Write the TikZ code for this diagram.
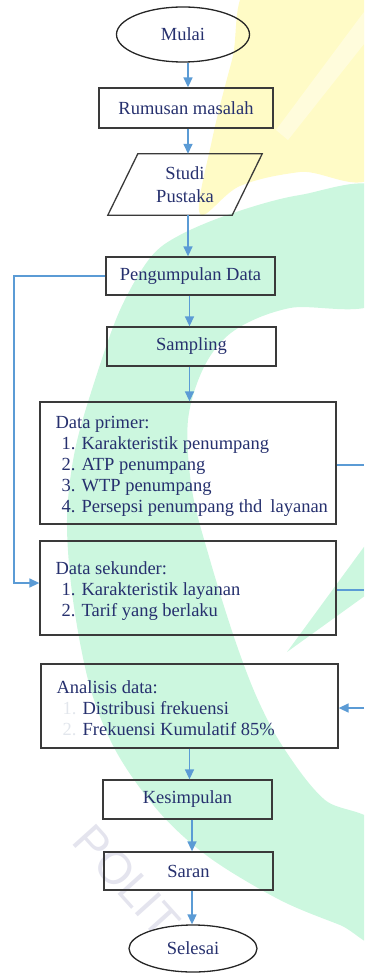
\documentclass[tikz,border=0pt]{standalone}
\usepackage{fontspec}
\setmainfont{Liberation Serif}
\newfontfamily\wmfont{Liberation Sans}
\usetikzlibrary{shapes.geometric,arrows.meta,calc}

\definecolor{inkblue}{HTML}{26306E}
\definecolor{framegray}{HTML}{3A3A3A}
\definecolor{linkblue}{HTML}{5B9BD5}
\definecolor{wmyellow}{HTML}{FFFBC6}
\definecolor{wmgreen}{HTML}{CCF7DF}
\definecolor{wmgray}{HTML}{E4E4EE}
\definecolor{numfaint}{HTML}{E2E6EC}

\begin{document}
\begin{tikzpicture}[x=1pt,y=-1pt,
  every node/.style={font=\fontsize{18.5}{21}\selectfont, text=inkblue},
  box/.style={draw=framegray, line width=1.3pt, rectangle, inner sep=0pt,
              minimum width=169pt, minimum height=39pt},
  frame/.style={draw=framegray, line width=1.3pt, rectangle, inner sep=0pt},
  listtext/.style={anchor=west, align=left, inner sep=0pt},
  oval/.style={draw=black!85, line width=1.3pt, ellipse, inner sep=0pt},
  link/.style={draw=linkblue, line width=1.5pt},
  arr/.style={link, -{Triangle[length=10pt,width=9pt]}},
]
\useasboundingbox (0,0) rectangle (364,973);

% background watermark
\begin{scope}
  \clip (0,0) rectangle (364,973);
  \fill[wmyellow] plot[smooth cycle, tension=0.6] coordinates {
    (255,-20) (380,-20) (380,168) (300,172) (240,186) (200,214) (212,140) (232,60)};
  \fill[white, opacity=0.4] (364,12) -- (364,44) -- (288,140) -- (276,130) -- cycle;
  \fill[wmgreen] plot[smooth cycle, tension=0.55] coordinates {
    (380,190) (300,195) (233,213) (180,235) (150,258) (120,310) (95,380)
    (75,450) (67,520) (73,600) (90,687) (117,753) (160,813) (210,858)
    (280,900) (340,925) (380,940) (380,830) (325,800) (285,750) (258,700)
    (235,640) (210,560) (192,490) (188,420) (205,365) (235,330) (290,308)
    (380,300)};
  \fill[wmgreen] (380,525) -- (287,652) -- (380,585) -- cycle;
  \node[rotate=-48, font=\wmfont\fontsize{46}{46}\selectfont, text=wmgray]
    (wm) at (127,881) {POLIT};
\end{scope}

% flow nodes
\node[oval, minimum width=133pt, minimum height=55pt] (mulai) at (183,34.5) {Mulai};
\node[box, minimum width=174pt, minimum height=40pt] (rumusan) at (186,108) {Rumusan masalah};
\node[inner sep=0pt, minimum width=124pt, minimum height=61pt, align=center,
      font=\fontsize{18.5}{23}\selectfont] (studi) at (185,184.5) {Studi\\Pustaka};
\draw[draw=framegray, line width=1.3pt]
  ([xshift=15pt]studi.north west) -- ([xshift=15pt]studi.north east)
  -- ([xshift=-15pt]studi.south east) -- ([xshift=-15pt]studi.south west) -- cycle;
\node[box, minimum height=38pt] (peng) at (190.5,276) {Pengumpulan Data};
\node[box] (samp) at (191.5,346.5) {Sampling};

\node[frame, minimum width=296pt, minimum height=122pt] (primer) at (188,463) {};
\node[listtext] (primertext) at ([xshift=16pt,yshift=-3pt]primer.west) {Data primer:\\
  \hspace*{6pt}1. Karakteristik penumpang\\
  \hspace*{6pt}2. ATP penumpang\\
  \hspace*{6pt}3. WTP penumpang\\
  \hspace*{6pt}4. Persepsi penumpang thd\hspace{8pt}layanan};

\node[frame, minimum width=296pt, minimum height=94pt] (sek) at (188,588) {};
\node[listtext] (sektext) at ([xshift=16pt,yshift=-3pt]sek.west) {Data sekunder:\\
  \hspace*{6pt}1. Karakteristik layanan\\
  \hspace*{6pt}2. Tarif yang berlaku};

\node[frame, minimum width=297pt, minimum height=84pt] (anal) at (189.5,706) {};
\node[listtext] (analtext) at ([xshift=16pt,yshift=-2pt]anal.west) {Analisis data:\\
  \hspace*{6pt}\textcolor{numfaint}{1.} Distribusi frekuensi\\
  \hspace*{6pt}\textcolor{numfaint}{2.} Frekuensi Kumulatif 85\%};

\node[box] (kes) at (187.5,799.5) {Kesimpulan};
\node[box, minimum height=38pt] (saran) at (188.5,871) {Saran};
\node[oval, minimum width=128pt, minimum height=47pt] (selesai) at (193,948.5) {Selesai};

% guide coordinates for the connectors
\coordinate (s1) at (188,0);
\coordinate (s2) at (189.5,0);
\coordinate (s3) at (192,0);
\coordinate (lx) at (14,0);
\coordinate (rx) at (364,0);

% main flow
\draw[arr] (mulai.south -| s1) -- (rumusan.north -| s1);
\draw[arr] (rumusan.south -| s1) -- (studi.north -| s1);
\draw[arr] (studi.south -| s1) -- (peng.north -| s1);
\draw[arr] (peng.south -| s2) -- (samp.north -| s2);
\draw[arr] (samp.south -| s2) -- (primer.north -| s2);
\draw[arr] (anal.south -| s2) -- (kes.north -| s2);
\draw[arr] (kes.south -| s3) -- (saran.north -| s3);
\draw[arr] (saran.south -| s3) -- (selesai.north -| s3);

% side connectors
\draw[arr] (peng.west) -- (peng.west -| lx) |- ([yshift=5pt]sek.west);
\draw[link] ([yshift=-2pt]primer.east) -- ([yshift=-2pt]primer.east -| rx);
\draw[link] ([yshift=-2pt]sek.east) -- ([yshift=-2pt]sek.east -| rx);
\draw[arr] ([yshift=-2pt]anal.east -| rx) -- ([yshift=-2pt]anal.east);
\end{tikzpicture}
\end{document}
